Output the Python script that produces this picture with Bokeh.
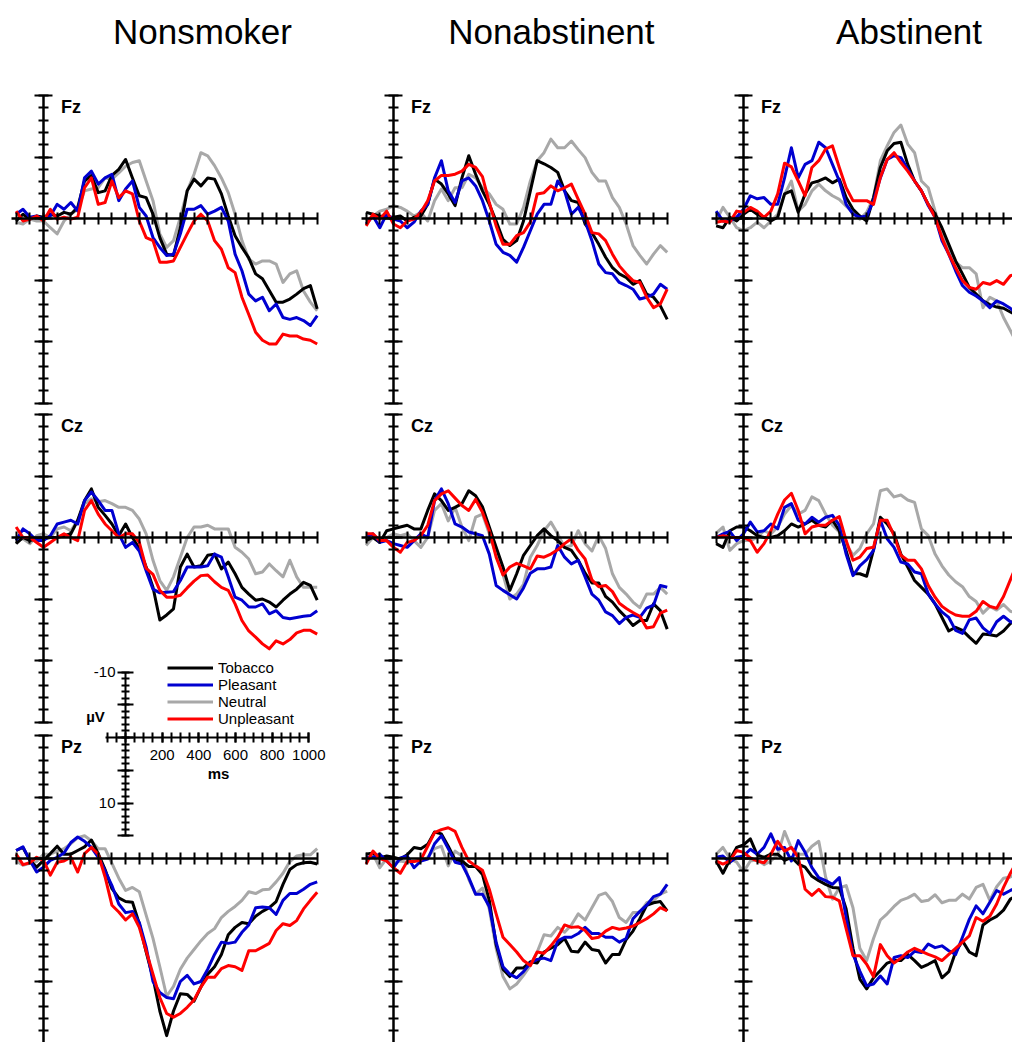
from bokeh.plotting import figure
from bokeh.models import Range1d, LinearAxis, FixedTicker, Label, Legend, LegendItem
from bokeh.layouts import row
from bokeh.embed import file_html
from bokeh.resources import INLINE

# ---------------- data ----------------
times = list(range(-100, 1001, 25))  # ms

groups = ["Nonsmoker", "Nonabstinent", "Abstinent"]
sites = ["Fz", "Cz", "Pz"]
conditions = ["Tobacco", "Pleasant", "Neutral", "Unpleasant"]

panel_x_ticks = list(range(-100, 1001, 50))
panel_y_minor = list(range(-10, 16))
panel_y_major = [-10, -5, 0, 5, 10, 15]
scale_x_labels = [200, 400, 600, 800, 1000]
scale_y_labels = [-10, 10]

# Nonsmoker
ns_fz_tobacco = [0.2, -0.35, 0.05, -0.2, -0.1, -0.35, -0.2, -0.5, -0.35, -0.9, -3.05, -3.5, -2.1, -2.25, -3.5, -4.0, -4.8, -3.3, -1.85, -1.7, -0.35, 1.55, 2.9, 3.0, 0.75, -2.25, -3.2, -2.65, -3.3, -3.2, -2.0, -0.2, 1.4, 2.35, 3.2, 4.5, 4.9, 5.85, 6.8, 6.8, 6.55, 6.15, 5.7, 5.45, 7.35]
ns_fz_pleasant = [-0.35, -0.75, -0.1, -0.2, 0.05, -0.2, -1.15, -0.75, -1.3, -0.6, -3.3, -3.85, -2.8, -3.3, -3.6, -1.45, -2.4, -3.05, -0.9, -0.2, 1.55, 2.35, 3.0, 2.9, 1.25, -0.75, -0.75, -1.05, -0.35, -0.6, -0.9, 0.2, 2.9, 4.25, 6.15, 6.7, 6.4, 7.5, 6.95, 8.05, 8.2, 8.05, 8.3, 8.7, 7.9]
ns_fz_neutral = [0.3, 0.45, 0.05, 0.2, 0.2, 0.75, 1.25, 0.2, -0.35, -0.75, -2.25, -2.4, -2.5, -3.3, -3.2, -3.7, -4.25, -4.55, -4.7, -3.05, -1.45, 1.25, 2.35, 1.8, -0.1, -2.25, -3.6, -5.35, -5.1, -4.3, -3.3, -2.1, -0.35, 1.8, 3.3, 3.7, 3.45, 3.45, 3.7, 5.2, 4.5, 4.25, 5.9, 6.8, 7.5]
ns_fz_unpleasant = [-0.6, 0.2, 0.05, -0.2, 0.2, -0.75, 0.05, -0.1, 0.05, -0.1, -2.5, -3.3, -1.15, -1.3, -3.05, -1.7, -2.25, -2.0, 0.2, 1.55, 1.8, 3.55, 3.55, 3.45, 2.35, 1.25, 0.2, -0.35, 0.2, 1.8, 2.5, 4.0, 4.4, 6.4, 7.8, 9.25, 9.9, 10.2, 10.2, 9.4, 9.55, 9.55, 9.8, 9.9, 10.2]

ns_cz_tobacco = [0.5, 0.0, 0.25, 0.1, 0.1, 0.0, 0.0, -0.15, -0.3, -1.4, -3.0, -3.95, -2.45, -1.8, -1.1, -0.15, -1.1, 0.0, 0.9, 2.4, 4.05, 6.7, 6.3, 5.8, 2.4, 1.35, 2.4, 2.3, 1.45, 1.35, 2.55, 2.0, 2.95, 4.05, 4.6, 5.1, 5.0, 5.25, 5.65, 5.1, 4.6, 4.2, 3.65, 3.9, 5.1]
ns_cz_pleasant = [0.25, -0.7, -0.3, 0.25, 0.25, -0.15, -1.1, -1.25, -1.4, -1.1, -3.0, -3.7, -3.0, -2.2, -2.2, -0.3, 0.8, 0.4, 1.1, 2.7, 4.2, 4.5, 4.45, 4.4, 3.5, 2.4, 2.4, 2.4, 2.3, 1.35, 1.6, 3.2, 4.85, 5.1, 5.65, 5.65, 5.4, 6.2, 5.95, 6.5, 6.6, 6.5, 6.4, 6.35, 5.95]
ns_cz_neutral = [0.25, 0.1, 0.5, -0.15, -0.3, 0.0, -0.7, -0.85, -0.55, -1.4, -2.75, -3.15, -2.9, -3.0, -2.75, -2.45, -2.45, -2.2, -1.5, -0.3, 1.85, 3.5, 4.3, 3.2, 1.6, 0.0, -0.85, -0.85, -1.0, -0.7, -0.7, -0.7, 0.8, 1.2, 1.75, 2.95, 2.8, 2.15, 2.7, 3.2, 1.85, 3.2, 4.05, 4.05, 4.05]
ns_cz_unpleasant = [-0.85, 0.0, 0.0, 0.4, 0.8, 0.4, 0.0, -0.3, 0.0, 0.25, -2.2, -3.0, -1.9, -1.1, -0.55, 0.0, -0.3, -0.3, 0.4, 2.5, 3.0, 4.3, 4.85, 4.85, 4.7, 4.1, 3.55, 3.1, 3.05, 3.6, 4.05, 4.3, 5.4, 6.75, 7.6, 8.1, 8.65, 9.05, 8.4, 8.65, 8.3, 7.75, 7.55, 7.55, 7.85]

ns_pz_tobacco = [-0.65, -0.9, 0.15, 0.7, 0.15, -0.4, -1.0, -0.35, -0.35, -0.65, -0.95, -1.5, -0.4, 0.9, 2.45, 3.2, 3.5, 3.55, 5.3, 7.6, 9.7, 12.4, 14.4, 12.4, 11.0, 11.05, 11.6, 10.45, 9.4, 8.8, 7.8, 6.2, 5.6, 5.2, 5.3, 4.7, 4.3, 4.0, 3.5, 2.1, 0.9, 0.5, 0.35, 0.3, 0.45]
ns_pz_pleasant = [-0.65, -0.95, 0.15, 1.1, 0.7, 0.15, -0.1, -0.45, -1.3, -1.75, -1.4, -0.9, -0.1, 1.0, 2.2, 3.7, 4.4, 4.3, 5.2, 7.2, 10.0, 10.9, 11.3, 11.4, 10.0, 9.5, 10.2, 10.0, 9.0, 7.8, 6.8, 6.9, 6.8, 6.0, 5.4, 4.0, 3.95, 4.0, 4.55, 3.4, 2.85, 2.85, 2.5, 2.1, 1.9]
ns_pz_neutral = [0.2, 0.55, 0.4, 0.25, -0.35, -0.35, -0.6, -0.8, -1.2, -1.7, -1.85, -1.45, -0.8, -0.8, 0.4, 1.6, 2.6, 2.35, 2.7, 4.6, 6.5, 8.8, 11.2, 10.4, 9.0, 8.1, 7.4, 6.7, 6.1, 5.7, 4.8, 4.3, 3.9, 3.4, 2.7, 2.85, 2.55, 2.5, 1.9, 1.2, 0.25, -0.2, -0.3, -0.3, -0.8]
ns_pz_unpleasant = [-0.35, 0.5, 0.35, -0.1, 0.15, 1.35, 0.3, 0.2, -0.1, 1.1, -0.4, -0.9, -0.35, 1.5, 3.8, 4.35, 5.0, 4.5, 5.6, 7.5, 9.4, 11.3, 12.6, 12.9, 12.6, 12.1, 11.5, 10.45, 9.65, 9.65, 8.95, 8.7, 8.8, 9.1, 7.5, 7.5, 7.2, 6.9, 5.85, 5.3, 5.45, 5.05, 4.1, 3.4, 2.75]

# Nonabstinent
na_fz_tobacco = [-0.5, -0.35, -0.2, -0.1, -0.1, -0.2, 0.2, -0.1, -0.2, -1.15, -3.2, -2.8, -2.0, -1.05, -3.3, -5.1, -3.6, -2.25, -1.15, 0.2, 1.7, 2.2, 1.8, 0.2, -2.25, -4.7, -4.45, -4.15, -3.75, -2.25, -1.45, -1.3, 0.45, 1.15, 2.1, 3.15, 4.0, 4.5, 4.8, 5.35, 5.05, 6.15, 6.4, 7.1, 8.2]
na_fz_pleasant = [0.45, -0.2, 0.75, -0.35, 0.05, 0.2, 0.75, 0.3, -0.6, -1.15, -3.3, -4.7, -2.25, -1.3, -3.05, -3.3, -2.65, -1.45, 0.2, 2.1, 2.75, 3.0, 3.55, 2.35, 1.0, -0.35, -1.15, -1.15, -3.05, -2.25, -0.35, -0.9, 0.2, 1.8, 3.7, 4.4, 4.5, 5.2, 5.45, 5.75, 6.55, 6.4, 6.15, 5.35, 5.75]
na_fz_neutral = [0.2, -0.2, -0.6, -0.75, -1.05, -0.9, -0.6, -0.2, -0.5, 0.2, -1.45, -2.4, -1.45, -2.5, -2.5, -3.6, -3.3, -2.5, -2.0, -1.15, -0.75, 0.45, 0.45, -0.9, -3.05, -4.7, -5.35, -6.45, -5.75, -5.75, -6.3, -5.6, -4.95, -3.75, -3.05, -3.05, -1.7, -0.9, 0.45, 2.2, 3.0, 3.7, 2.9, 2.2, 2.75]
na_fz_unpleasant = [0.6, -0.35, 0.05, -0.6, 0.45, 0.75, 0.2, 0.05, -0.5, -1.45, -3.05, -3.5, -3.5, -3.6, -3.85, -4.4, -4.15, -3.4, -1.3, 0.6, 2.1, 2.1, 1.4, 1.15, 0.3, -2.0, -2.1, -2.65, -2.25, -2.5, -2.8, -1.55, -0.35, 1.15, 1.25, 1.8, 2.9, 3.85, 4.5, 5.05, 5.2, 6.4, 7.25, 6.95, 5.75]

na_cz_tobacco = [0.25, 0.0, 0.4, -0.55, -0.7, -0.85, -1.0, -0.7, -0.7, -2.2, -3.55, -3.0, -2.2, -2.45, -2.75, -3.8, -3.4, -2.5, -0.85, 0.8, 2.4, 4.3, 2.95, 1.45, 0.65, -0.15, -0.7, -0.15, 0.25, 0.8, 1.05, 1.85, 2.9, 3.7, 3.7, 4.8, 5.25, 5.95, 6.5, 7.15, 6.75, 6.75, 5.4, 5.95, 7.45]
na_cz_pleasant = [0.0, -0.3, 0.4, 0.25, 0.5, 0.65, 0.8, 0.25, -0.3, 0.0, -3.0, -3.95, -2.75, -1.1, -0.85, -0.45, -0.3, -0.15, 1.35, 3.9, 4.3, 4.65, 5.0, 4.1, 2.9, 2.55, 2.55, 2.4, 0.65, 1.6, 2.15, 1.85, 3.2, 4.6, 5.1, 6.05, 6.35, 7.0, 6.5, 6.3, 6.5, 5.75, 5.5, 3.9, 4.05]
na_cz_neutral = [0.65, 0.0, 0.25, 0.0, -0.3, -0.15, -0.3, 0.25, 0.8, 0.0, -2.2, -2.75, -1.35, -2.45, -0.85, 0.25, -1.65, -1.9, -0.3, 1.35, 3.0, 5.0, 4.6, 3.8, 1.6, 0.65, -0.55, -1.25, -0.3, 0.8, 0.65, -0.55, 0.5, 1.1, -0.15, 0.9, 2.95, 4.05, 4.6, 5.25, 5.7, 4.6, 4.6, 4.05, 4.6]
na_cz_unpleasant = [-0.3, -0.3, 0.25, 0.25, 0.8, 1.2, 0.4, 0.25, -0.15, -1.0, -3.0, -3.55, -3.8, -3.2, -2.6, -2.2, -3.1, -2.05, -0.55, 1.6, 3.05, 2.4, 2.1, 2.3, 2.55, 1.5, 1.6, 1.35, 1.0, 0.5, 0.1, 1.05, 1.75, 3.45, 4.0, 3.9, 4.4, 5.35, 5.75, 6.1, 6.4, 7.35, 7.25, 6.15, 5.9]

na_pz_tobacco = [-0.35, -0.45, -0.05, -0.2, -0.1, 0.05, -0.3, -0.9, -0.8, -1.15, -2.15, -2.0, -1.0, 0.1, 0.2, 0.65, 0.65, 1.3, 3.4, 7.0, 9.0, 9.6, 8.9, 8.9, 8.4, 8.5, 7.6, 7.3, 7.0, 6.5, 7.55, 7.6, 6.8, 7.4, 7.5, 8.5, 7.8, 7.8, 6.6, 5.9, 4.9, 3.8, 3.6, 3.5, 4.25]
na_pz_pleasant = [-0.1, -0.1, -0.35, 0.2, 0.75, -0.05, -0.2, 0.75, 0.2, 0.05, -1.2, -1.85, -0.8, 0.3, 0.45, 1.55, 2.9, 2.9, 3.9, 6.8, 8.8, 9.4, 9.7, 9.2, 8.5, 8.2, 8.1, 8.3, 6.7, 6.4, 6.4, 6.1, 5.6, 6.1, 6.1, 6.4, 6.4, 6.8, 6.5, 4.9, 4.3, 3.8, 3.1, 2.9, 2.1]
na_pz_neutral = [0.2, -0.35, 0.75, 0.0, 0.3, 0.2, 0.3, 0.2, 0.2, -0.1, -0.8, -1.0, 0.6, -0.6, -0.2, 1.7, 2.9, 2.4, 4.1, 7.3, 9.6, 10.6, 10.2, 9.5, 8.7, 7.6, 6.2, 6.3, 5.6, 6.0, 5.4, 4.5, 5.0, 4.0, 3.0, 2.8, 3.5, 4.8, 5.2, 4.4, 4.4, 3.6, 3.4, 2.9, 2.65]
na_pz_unpleasant = [0.45, -0.6, 0.0, 0.2, 0.75, 1.2, 0.25, 0.25, 0.1, -1.0, -2.1, -2.35, -2.5, -2.2, -0.9, 0.2, 0.6, 0.95, 2.5, 4.5, 6.4, 7.0, 7.6, 8.3, 8.7, 7.6, 7.7, 7.1, 6.4, 5.4, 5.6, 5.55, 5.85, 6.5, 6.4, 5.9, 5.6, 5.75, 5.65, 5.5, 5.2, 4.9, 4.5, 4.0, 4.25]

# Abstinent
ab_fz_tobacco = [0.6, 0.75, -0.1, 0.2, -0.35, -0.75, -0.35, -0.1, 0.2, -0.1, -2.0, -2.25, -0.5, -2.0, -2.9, -3.05, -3.3, -2.9, -3.2, -1.7, -0.75, -0.2, 0.2, -1.7, -4.15, -5.5, -6.1, -6.2, -4.4, -3.05, -2.25, -1.15, -0.35, 0.75, 2.1, 3.45, 4.5, 5.6, 6.15, 6.7, 7.0, 7.2, 7.3, 7.6, 7.9]
ab_fz_pleasant = [-0.6, 0.2, 0.2, -0.1, -0.75, -1.85, -1.6, -1.7, -1.15, -1.15, -3.3, -5.75, -3.3, -4.4, -4.7, -6.2, -5.75, -4.4, -3.05, -1.15, -0.35, -0.1, -0.2, -1.45, -3.3, -4.8, -5.1, -4.95, -4.0, -3.05, -2.25, -1.05, -0.1, 1.8, 2.9, 4.25, 5.45, 6.0, 6.3, 6.7, 7.25, 6.7, 6.95, 7.3, 7.8]
ab_fz_neutral = [0.2, -0.9, -0.1, 0.75, 1.0, 0.75, 0.3, 0.75, 0.2, -0.35, -1.95, -3.05, -0.6, -1.15, -2.25, -2.8, -2.25, -1.85, -1.55, -1.0, -0.5, 0.05, -0.5, -1.7, -4.7, -5.9, -7.0, -7.6, -6.05, -5.35, -3.05, -2.5, -0.6, 1.0, 2.35, 3.55, 4.0, 4.0, 4.5, 7.25, 6.4, 6.7, 8.05, 9.1, 10.2]
ab_fz_unpleasant = [0.3, 0.2, 0.3, -0.6, -0.5, -0.9, -0.6, -0.1, -0.6, -2.0, -4.5, -4.2, -3.05, -1.85, -4.15, -4.7, -5.65, -5.9, -4.15, -2.5, -1.45, -1.45, -1.45, -1.15, -3.35, -4.8, -5.35, -4.55, -3.85, -3.05, -2.25, -1.15, -0.1, 1.55, 2.9, 4.0, 5.05, 5.6, 5.75, 5.2, 5.35, 5.05, 5.35, 4.65, 4.5]

ab_cz_tobacco = [0.5, 0.8, -0.55, -0.85, -0.85, -0.55, -0.15, 0.0, 0.0, -0.15, -0.55, -1.1, -0.85, -1.1, -1.4, -1.0, -0.85, -1.4, -0.55, 1.1, 2.95, 2.95, 3.15, 1.0, -1.65, -1.1, -0.3, 1.35, 2.4, 3.5, 4.05, 4.6, 5.4, 6.5, 7.6, 7.3, 7.55, 8.1, 8.6, 7.85, 7.9, 8.0, 7.6, 7.0, 6.5]
ab_cz_pleasant = [0.0, -0.3, -0.5, 0.25, -0.3, -1.25, -0.45, -0.55, -1.1, -0.7, -2.45, -2.75, -1.4, -1.1, -1.65, -1.25, -1.65, -1.8, -1.0, 1.35, 3.1, 2.3, 1.8, 1.05, -1.4, 0.1, 0.8, 2.0, 2.15, 2.8, 2.95, 4.6, 5.4, 6.05, 6.5, 7.55, 7.8, 6.7, 6.55, 7.35, 7.8, 6.85, 6.4, 6.85, 7.0]
ab_cz_neutral = [-0.35, -0.85, 1.05, 0.5, 0.25, 0.25, 0.0, -0.55, -0.3, -0.85, -1.9, -2.6, -1.9, -2.2, -3.3, -3.0, -1.9, -1.0, -0.45, 0.5, 1.45, 0.9, -0.3, -1.1, -3.8, -3.95, -3.3, -3.45, -3.05, -2.85, -0.7, -0.15, 1.35, 2.3, 3.05, 3.6, 4.0, 4.8, 5.2, 6.15, 5.6, 5.9, 5.45, 6.0, 6.15]
ab_cz_unpleasant = [0.0, -0.15, 0.0, 0.0, 0.0, 0.25, 1.2, 0.5, -0.55, -1.9, -3.05, -3.6, -2.2, -0.3, -0.85, -1.0, -1.0, -1.4, -1.7, 0.25, 1.85, 1.6, 0.9, 0.8, -1.4, -1.4, -0.15, 1.45, 1.85, 1.85, 2.55, 3.9, 4.85, 5.6, 6.0, 6.3, 6.4, 6.4, 6.0, 5.2, 5.6, 5.75, 4.8, 3.45, 2.1]

ab_pz_tobacco = [0.2, 1.2, 0.1, -0.9, -1.1, -1.6, -0.3, -0.1, -0.35, -0.35, 0.15, -0.1, 0.45, 0.7, 1.45, 1.8, 2.1, 2.35, 2.4, 4.1, 7.3, 9.8, 10.6, 9.7, 9.1, 8.5, 8.3, 8.3, 7.8, 8.3, 8.85, 8.6, 8.3, 9.7, 9.2, 7.6, 6.7, 7.6, 7.9, 5.4, 5.0, 4.7, 4.2, 3.3, 3.0]
ab_pz_pleasant = [-0.1, -0.2, 0.3, -0.1, -0.2, -0.75, -0.35, -0.9, -2.0, -0.75, -0.9, 0.2, -1.45, -0.5, 0.75, 1.55, 1.8, 2.1, 1.55, 4.8, 7.8, 9.15, 10.35, 10.2, 9.55, 10.2, 8.05, 7.9, 8.05, 7.55, 7.65, 6.95, 7.25, 7.1, 7.5, 7.8, 6.4, 4.95, 3.85, 4.5, 3.55, 2.6, 2.9, 2.6, 2.35]
ab_pz_neutral = [-0.35, -0.9, 0.0, 0.3, 1.1, 0.2, 0.1, 0.5, 0.2, -0.3, -2.2, -0.85, -0.35, -0.35, -1.0, -1.4, 1.5, 3.3, 2.4, 2.2, 4.0, 7.3, 8.3, 6.5, 5.0, 4.5, 3.9, 3.4, 3.2, 2.9, 3.5, 3.4, 2.95, 3.6, 3.4, 3.4, 2.9, 3.3, 2.35, 2.1, 3.4, 2.3, 1.6, 1.5, 1.2]
ab_pz_unpleasant = [0.2, 0.45, 0.2, -0.65, -0.5, -0.05, 0.2, 0.35, -0.35, -1.4, -0.6, -0.9, -0.1, 2.5, 3.0, 2.5, 3.1, 3.15, 3.45, 5.7, 7.9, 7.9, 8.6, 9.6, 7.0, 7.9, 8.5, 8.1, 7.6, 7.3, 7.55, 7.8, 8.0, 8.3, 7.8, 7.3, 6.8, 6.3, 4.8, 5.1, 4.7, 3.7, 2.35, 1.2, 0.2]

data = {
    ("Nonsmoker", "Fz"): [ns_fz_tobacco, ns_fz_pleasant, ns_fz_neutral, ns_fz_unpleasant],
    ("Nonsmoker", "Cz"): [ns_cz_tobacco, ns_cz_pleasant, ns_cz_neutral, ns_cz_unpleasant],
    ("Nonsmoker", "Pz"): [ns_pz_tobacco, ns_pz_pleasant, ns_pz_neutral, ns_pz_unpleasant],
    ("Nonabstinent", "Fz"): [na_fz_tobacco, na_fz_pleasant, na_fz_neutral, na_fz_unpleasant],
    ("Nonabstinent", "Cz"): [na_cz_tobacco, na_cz_pleasant, na_cz_neutral, na_cz_unpleasant],
    ("Nonabstinent", "Pz"): [na_pz_tobacco, na_pz_pleasant, na_pz_neutral, na_pz_unpleasant],
    ("Abstinent", "Fz"): [ab_fz_tobacco, ab_fz_pleasant, ab_fz_neutral, ab_fz_unpleasant],
    ("Abstinent", "Cz"): [ab_cz_tobacco, ab_cz_pleasant, ab_cz_neutral, ab_cz_unpleasant],
    ("Abstinent", "Pz"): [ab_pz_tobacco, ab_pz_pleasant, ab_pz_neutral, ab_pz_unpleasant],
}

# ---------------- styling / layout ----------------
COLORS = {"Tobacco": "#000000", "Pleasant": "#0000d0", "Neutral": "#a8a8a8", "Unpleasant": "#ff0000"}
DRAW_ORDER = ["Neutral", "Tobacco", "Pleasant", "Unpleasant"]
FONT = "Liberation Sans"

FIG_H = 1042
COL_W = [350, 350, 312]
ZERO_X_PX = 43.0
PX_PER_MS = 0.2737
PX_PER_UV = 12.3
ZERO_Y_PX = {"Fz": 218.0, "Cz": 537.0, "Pz": 858.0}
RANGE_NAME = {"Fz": "default", "Cz": "cz", "Pz": "pz"}
TITLE_MID_PX = 30.5
SITE_LABEL_MID_UV = -9.05
TITLE_X_MS = [581, 577, 605]

SB_ZERO_X_PX = 125.0
SB_PX_PER_MS = 0.1833
SB_ZERO_Y_PX = 737.0
SB_PX_PER_UV = 6.55


def vrange(zero_px, px_per):
    # positive values downward (EEG convention)
    return Range1d(start=(FIG_H - zero_px) / px_per, end=-zero_px / px_per)


def style_axis(ax, line=True):
    ax.axis_line_color = "black" if line else None
    ax.axis_line_width = 2.5
    ax.major_tick_line_color = "black"
    ax.major_tick_line_width = 2
    ax.minor_tick_line_color = "black"
    ax.minor_tick_line_width = 2
    ax.major_label_text_font = FONT
    ax.major_label_text_font_size = "15px"
    ax.major_label_text_color = "black"


figs = []
for gi, group in enumerate(groups):
    w = COL_W[gi]
    xr = Range1d(-ZERO_X_PX / PX_PER_MS, (w - ZERO_X_PX) / PX_PER_MS)
    extra_y = {"cz": vrange(ZERO_Y_PX["Cz"], PX_PER_UV), "pz": vrange(ZERO_Y_PX["Pz"], PX_PER_UV)}
    extra_x = {}
    if gi == 0:
        extra_y["sy"] = vrange(SB_ZERO_Y_PX, SB_PX_PER_UV)
        extra_x["sx"] = Range1d(-SB_ZERO_X_PX / SB_PX_PER_MS, (w - SB_ZERO_X_PX) / SB_PX_PER_MS)
    p = figure(width=w, height=FIG_H, x_range=xr, y_range=vrange(ZERO_Y_PX["Fz"], PX_PER_UV),
               x_axis_type=None, y_axis_type=None, toolbar_location=None, tools="",
               output_backend="svg", min_border=0, min_border_left=0, min_border_right=0,
               min_border_top=0, min_border_bottom=0, outline_line_color=None,
               background_fill_color="white", border_fill_color="white")
    p.extra_y_ranges = extra_y
    if extra_x:
        p.extra_x_ranges = extra_x

    legend_renderers = {}
    for site in sites:
        rn = RANGE_NAME[site]
        # time axis crossing at 0 uV
        xa = LinearAxis(y_range_name=rn, fixed_location=0, bounds=(-118, 1000),
                        ticker=FixedTicker(ticks=[], minor_ticks=panel_x_ticks))
        style_axis(xa)
        xa.minor_tick_in = 6
        xa.minor_tick_out = 6
        p.add_layout(xa, "below")
        # amplitude axis crossing at 0 ms (short ticks)
        ya = LinearAxis(y_range_name=rn, fixed_location=0, bounds=(-10, 15),
                        ticker=FixedTicker(ticks=[], minor_ticks=panel_y_minor))
        style_axis(ya)
        ya.minor_tick_in = 5
        ya.minor_tick_out = 5
        p.add_layout(ya, "left")
        # long ticks every 5 uV
        ya2 = LinearAxis(y_range_name=rn, fixed_location=0, bounds=(-10, 15),
                         ticker=FixedTicker(ticks=[], minor_ticks=panel_y_major))
        style_axis(ya2, line=False)
        ya2.minor_tick_in = 9
        ya2.minor_tick_out = 9
        p.add_layout(ya2, "left")

        series = dict(zip(conditions, data[(group, site)]))
        for cond in DRAW_ORDER:
            r = p.line(times, series[cond], line_color=COLORS[cond], line_width=3,
                       line_join="round", y_range_name=rn)
            if site == "Fz":
                legend_renderers[cond] = r

        p.add_layout(Label(x=64, y=SITE_LABEL_MID_UV, y_range_name=rn, text=site, text_font=FONT,
                           text_font_style="bold", text_font_size="18px",
                           text_color="black", text_baseline="middle", text_align="left"))

    # column title
    p.add_layout(Label(x=TITLE_X_MS[gi], y=(TITLE_MID_PX - ZERO_Y_PX["Fz"]) / PX_PER_UV,
                       text=group, text_font=FONT, text_font_size="35px", text_color="black",
                       text_align="center", text_baseline="middle"))

    if gi == 0:
        # calibration cross
        sxa = LinearAxis(x_range_name="sx", y_range_name="sy", fixed_location=0, bounds=(-109, 1000),
                         ticker=FixedTicker(ticks=scale_x_labels, minor_ticks=panel_x_ticks))
        style_axis(sxa)
        sxa.axis_line_width = 2
        sxa.major_tick_in = 5
        sxa.major_tick_out = 5
        sxa.minor_tick_in = 5
        sxa.minor_tick_out = 5
        sxa.major_label_standoff = 7
        p.add_layout(sxa, "below")

        sya = LinearAxis(x_range_name="sx", y_range_name="sy", fixed_location=0, bounds=(-10, 15),
                         ticker=FixedTicker(ticks=scale_y_labels, minor_ticks=panel_y_minor))
        style_axis(sya)
        sya.axis_line_width = 2
        sya.major_tick_in = 8
        sya.major_tick_out = 8
        sya.minor_tick_in = 4
        sya.minor_tick_out = 4
        sya.major_label_standoff = 2
        sya.major_label_overrides = {v: str(v) for v in scale_y_labels}
        p.add_layout(sya, "left")

        sya2 = LinearAxis(x_range_name="sx", y_range_name="sy", fixed_location=0, bounds=(-10, 15),
                          ticker=FixedTicker(ticks=[], minor_ticks=[v for v in panel_y_major if v not in scale_y_labels]))
        style_axis(sya2, line=False)
        sya2.minor_tick_in = 8
        sya2.minor_tick_out = 8
        p.add_layout(sya2, "left")

        p.add_layout(Label(x=(95 - SB_ZERO_X_PX) / SB_PX_PER_MS, y=(716 - SB_ZERO_Y_PX) / SB_PX_PER_UV,
                           x_range_name="sx", y_range_name="sy", text="µV", text_font=FONT,
                           text_font_style="bold", text_font_size="15px", text_color="black",
                           text_align="center", text_baseline="middle"))
        p.add_layout(Label(x=(218 - SB_ZERO_X_PX) / SB_PX_PER_MS, y=(773 - SB_ZERO_Y_PX) / SB_PX_PER_UV,
                           x_range_name="sx", y_range_name="sy", text="ms", text_font=FONT,
                           text_font_style="bold", text_font_size="15px", text_color="black",
                           text_align="center", text_baseline="middle"))

        legend = Legend(items=[LegendItem(label=c, renderers=[legend_renderers[c]]) for c in conditions],
                        location=(167, 315), orientation="vertical",
                        glyph_width=46, glyph_height=15, label_height=15, spacing=0,
                        padding=0, margin=0, label_standoff=5,
                        label_text_font=FONT, label_text_font_size="15px", label_text_color="black",
                        label_text_line_height=0.85,
                        border_line_color=None, background_fill_alpha=0)
        p.add_layout(legend)

    figs.append(p)

layout = row(*figs, spacing=0)
open("out.html", "w").write(file_html(layout, INLINE, "ERP waveforms"))
